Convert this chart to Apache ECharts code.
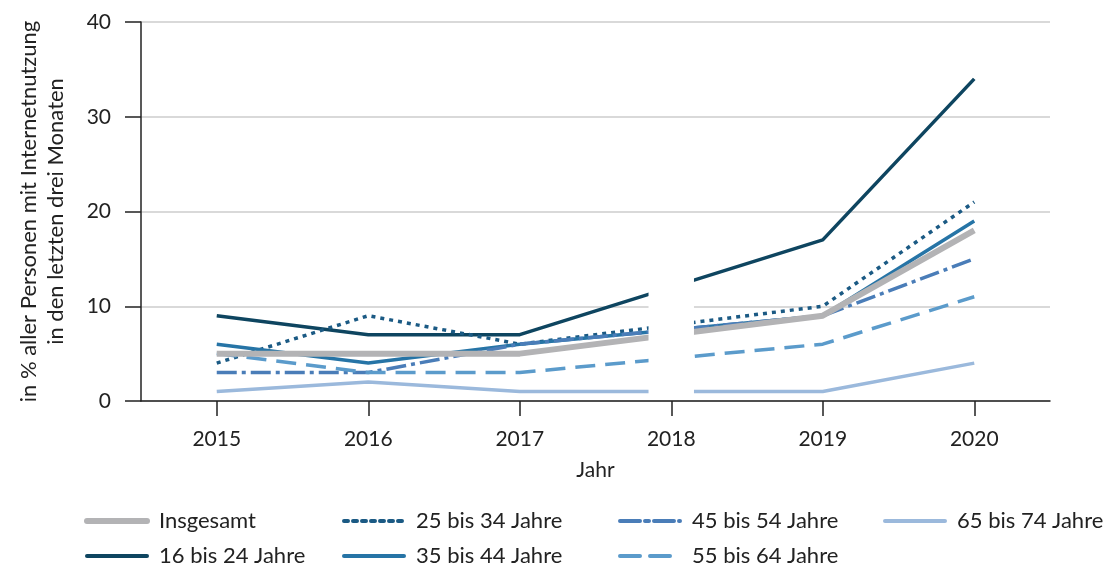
<!DOCTYPE html>
<html>
<head>
<meta charset="utf-8">
<script src="https://cdn.jsdelivr.net/npm/echarts@6/dist/echarts.min.js"></script>
<style>html,body{margin:0;padding:0;background:#fff;}#c{width:1107px;height:567px;}</style>
</head>
<body>
<div id="c"></div>
<script>
const years = [2015, 2016, 2017, 2019, 2020];
const tickYears = [2015, 2016, 2017, 2018, 2019, 2020];
const insgesamt = [5, 5, 5, 9, 18];
const a16_24 = [9, 7, 7, 17, 34];
const a25_34 = [4, 9, 6, 10, 21];
const a35_44 = [6, 4, 6, 9, 19];
const a45_54 = [3, 3, 6, 9, 15];
const a55_64 = [5, 3, 3, 6, 11];
const a65_74 = [1, 2, 1, 1, 4];
const names = ['Insgesamt', '16 bis 24 Jahre', '25 bis 34 Jahre', '35 bis 44 Jahre', '45 bis 54 Jahre', '55 bis 64 Jahre', '65 bis 74 Jahre'];

const FONT = 'Lato';
const pair = arr => years.map((y, i) => [y, arr[i]]);
const styles = [
  {color: '#b3b3b5', width: 6, type: 'solid'},
  {color: '#0e4560', width: 3.5, type: 'solid'},
  {color: '#1b5a84', width: 3.5, type: [4, 5]},
  {color: '#2674a6', width: 3.5, type: 'solid'},
  {color: '#4a7db8', width: 3.5, type: [20, 5, 4, 5]},
  {color: '#5b9bcb', width: 3.5, type: [20, 10]},
  {color: '#9bb9dc', width: 3.5, type: 'solid'}
];
const datas = [insgesamt, a16_24, a25_34, a35_44, a45_54, a55_64, a65_74];
const series = datas.map((d, i) => ({
  name: names[i],
  type: 'line',
  data: pair(d),
  symbol: 'none',
  lineStyle: {color: styles[i].color, width: styles[i].width, type: styles[i].type, cap: 'butt'},
  itemStyle: {color: styles[i].color},
  z: 2 + i
}));
series[0].z = 9;
series[series.length - 1].markArea = {
  silent: true,
  z: 20,
  itemStyle: {color: '#ffffff', opacity: 1},
  data: [[{xAxis: 2017.85, yAxis: 0.3}, {xAxis: 2018.15, yAxis: 14}]]
};

function legendCol(left, idx) {
  return {
    orient: 'vertical', left: left, top: 510, padding: 0, itemWidth: 60, itemHeight: 14, itemGap: 13,
    data: idx.map(i => ({
      name: names[i],
      lineStyle: {width: i === 0 ? 6 : 4, type: styles[i].type, color: styles[i].color, cap: 'round'}
    })),
    itemStyle: {opacity: 0, borderWidth: 0},
    textStyle: {fontFamily: FONT, fontSize: 22, lineHeight: 22, color: '#222', padding: [0, 0, 0, 7]},
    selectedMode: false
  };
}

const chart = echarts.init(document.getElementById('c'), null, {renderer: 'canvas'});
chart.setOption({
  animation: false,
  backgroundColor: '#fff',
  grid: {left: 141, right: 57, top: 22, bottom: 166},
  legend: [
    legendCol(84, [0, 1]),
    legendCol(342, [2, 3]),
    legendCol(618, [4, 5]),
    legendCol(883, [6])
  ],
  xAxis: {
    type: 'value', min: 2014.5, max: 2020.5,
    name: 'Jahr', nameLocation: 'middle', nameGap: 59,
    nameTextStyle: {fontFamily: FONT, fontSize: 21, color: '#222'},
    axisLine: {show: true, lineStyle: {color: '#222', width: 1.5}},
    axisTick: {show: true, customValues: tickYears, length: 15, lineStyle: {color: '#222', width: 1.5}},
    axisLabel: {customValues: tickYears, fontFamily: FONT, fontSize: 21, color: '#222', margin: 28, formatter: v => String(v)},
    splitLine: {show: false}
  },
  yAxis: {
    type: 'value', min: 0, max: 40, interval: 10,
    name: 'in % aller Personen mit Internetnutzung\nin den letzten drei Monaten',
    nameLocation: 'middle', nameGap: 72,
    nameTextStyle: {fontFamily: FONT, fontSize: 22, color: '#222', lineHeight: 27, align: 'center'},
    axisLine: {show: true, lineStyle: {color: '#222', width: 1.5}},
    axisTick: {show: true, length: 16, lineStyle: {color: '#222', width: 1.5}},
    axisLabel: {fontFamily: FONT, fontSize: 21, color: '#222', margin: 30},
    splitLine: {show: true, lineStyle: {color: '#cccccc', width: 1.5}}
  },
  series: series
});
</script>
</body>
</html>
